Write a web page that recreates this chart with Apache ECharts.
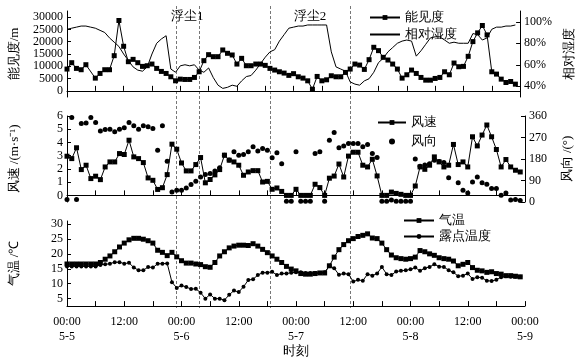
<!DOCTYPE html>
<html>
<head>
<meta charset="utf-8">
<script src="https://cdn.jsdelivr.net/npm/echarts@6/dist/echarts.min.js"></script>
<style>
html, body { margin: 0; padding: 0; background: #fff; }
#main { width: 584px; height: 359px; }
</style>
</head>
<body>
<div id="main"></div>
<script>
// 时间：5-5 00:00 起的小时数
var hours = [];
for (var i = 0; i < 96; i++) hours.push(i);

var visibility = [8870, 11460, 9140, 8600, 10640, null, 5180, 7090, 8600, 8600, 14320, 28640,
    18140, 11870, 12820, 11460, 9960, 10230, 10910, 9140, 7910, 7090, 5730, 4090,
    4770, 4640, 4640, 5460, 7770, 12280, 14730, 13910, 13910, 16640, 15280, 14600,
    10910, 13230, 10230, 10230, 10910, 10910, 10370, 9140, 8460, 7770, 7230, 6300,
    7000, 5730, 5180, 4090, 680, 5870, 4090, 4500, 6140, 5730, 5730, 7500,
    8870, 10910, 10500, 8730, 12690, 17730, 16370, 13640, 12550, 10910, 8870, 5180,
    6550, 8460, 7090, 5460, 4360, 4360, 5050, 5460, 7770, 6550, 11320, 9820,
    9960, 14050, 20050, 23600, 26600, 22780, 7770, 6820, 4770, 3410, 3820, 2730];

var humidity = [93, 94, 95, 96, 96, 95, 94, 92, 90, 85, 81, 77,
    70, 64, 58, 55, 54, 58, 70, 80, 84, 87, 56, 53,
    59, 60, 59, 60, 55, 53, 57, 48, 41, 38, 39, 41,
    40, 45, 49, 50, 55, 61, 67, 72, 74, 82, 88, 94,
    95, 96, 96, 97, 97, 97, 97, 97, 72, 58, 56, 54,
    44, 42, 41, 45, 47, 53, 62, 66, 72, 76, 80, 82,
    83, 82, 68, 73, 79, 85, 86, 86, 83, 80, 81, 80,
    80, 80, 89, 88, 83, 85, 93, 95, 95, 96, 96, 97];

var windSpeed = [2.96, 2.78, 3.6, 1.95, 2.28, 1.27, 1.45, 1.19, 2.15, 2.53, 2.53, 3.16,
    3.09, 4.17, 2.91, 2.78, 2.48, 1.32, 1.14, 0.45, 0.58, 1.57, 3.87, 3.49,
    2.45, 1.85, 1.85, 2.33, 2.86, 0.95, 1.2, 1.55, 1.95, 3.04, 2.66, 2.53,
    2.28, 1.52, 1.77, 1.87, 1.87, 1.01, 1.06, 0.46, 0.56, 0.3, 0, 0,
    0.46, 0, 0, 0, 0.84, 0.59, 0, 1.3, 1.46, 2.37, 1.39, 2.97,
    3.26, 3.26, 2.28, 2.15, 2.73, 1.47, 0, 0, 0.25, 0.15, 0.08, 0,
    0, 0.71, 2.15, 1.97, 2.28, 2.91, 2.53, 2.15, 2.28, 3.85, 2.33, 2.53,
    2.15, 4.43, 3.74, 4.56, 5.32, 4.43, 3.47, 2.15, 2.71, 2.15, 1.9, 1.77];

var windDir = [10, 354, 10, 329, 331, 354, 333, 297, 303, 305, 294, 305,
    311, 333, 319, 305, 319, 315, 308, 217, 319, 171, 42, 49,
    49, 59, 73, 87, 105, 115, 119, 130, 143, 196, 176, 210,
    196, 199, 210, 231, 214, 224, 217, 185, 206, 160, 3, 3,
    210, 3, 3, 3, 203, 210, 3, 259, 291, 227, 234, 245,
    245, 245, 231, 241, 203, 186, 3, 3, 8, 3, 3, 3,
    3, 180, 150, 155, 160, 175, 170, 165, 102, null, 81, 49,
    38, 84, 105, 81, 74, 56, 56, 28, 38, 8, 10, 6];

var airTemp = [16.6, 16.6, 16.6, 16.6, 16.6, 16.6, 16.6, 17.1, 18.2, 19.3, 20.7, 22.3,
    23.6, 24.7, 25.2, 25.2, 24.9, 24.4, 23.6, 21.2, 20.5, 19.4, 20.5, 19.0,
    17.7, 16.9, 16.9, 16.6, 16.4, 15.7, 15.5, 17.1, 19.3, 20.7, 22.0, 22.6,
    22.9, 22.9, 22.8, 23.4, 22.6, 21.5, 20.4, 19.3, 18.2, 17.1, 15.8, 14.9,
    14.3, 13.4, 13.2, 13.2, 13.4, 13.6, 13.6, 16.0, 18.9, 21.4, 23.1, 24.4,
    25.1, 25.8, 26.2, 26.7, 25.3, 25.1, 23.6, 21.4, 19.6, 18.7, 18.4, 18.2,
    18.4, 18.9, 21.1, 20.7, 20.0, 19.5, 18.7, 18.4, 18.2, 17.6, 16.0, 16.5,
    17.1, 15.4, 14.5, 14.3, 13.8, 14.0, 13.4, 13.2, 12.7, 12.7, 12.5, 12.3];

var dewPoint = [15.8, 15.8, 15.8, 15.8, 15.8, 15.8, 15.8, 16.3, 16.5, 16.7, 17.2, 17.2,
    16.7, 17.0, 15.4, 14.5, 14.5, 15.6, 15.4, 16.7, 16.7, 16.8, 10.5, 8.6,
    9.4, 8.9, 8.2, 8.3, 7.0, 5.0, 6.4, 5.0, 5.0, 4.5, 6.3, 7.7,
    7.2, 9.0, 11.2, 11.5, 12.9, 13.7, 13.7, 14.0, 12.9, 13.4, 13.4, 13.7,
    13.8, 13.8, 13.6, 13.6, 13.6, 13.6, 13.8, 16.0, 15.2, 13.0, 13.4, 13.2,
    10.7, 11.3, 11.0, 13.2, 12.7, 13.4, 15.6, 13.2, 12.9, 14.1, 14.3, 14.5,
    14.8, 15.4, 14.3, 15.2, 15.6, 16.5, 15.7, 15.6, 14.5, 13.8, 12.5, 12.7,
    13.4, 11.6, 12.2, 12.0, 11.0, 10.9, 11.3, 12.2, 12.5, 12.3, 12.3, 12.3];

// 浮尘时段分界（小时）
var dustLines = [23, 28, 43, 60];
var dustLabels = [{ name: '浮尘1', at: 25.5 }, { name: '浮尘2', at: 51.5 }];

var visTicks = [0, 5000, 10000, 15000, 20000, 25000, 30000];
var rhTicks = [40, 60, 80, 100];
var speedTicks = [0, 1, 2, 3, 4, 5, 6];
var dirTicks = [0, 90, 180, 270, 360];
var tempTicks = [5, 10, 15, 20, 25, 30];

function pairs(arr) {
    return hours.map(function (h, i) { return [h, arr[i]]; });
}

var font = 'Liberation Serif';
var black = '#000';

function xAxis(idx, showLabel) {
    return {
        gridIndex: idx,
        type: 'value',
        min: 0,
        max: 96,
        interval: 6,
        axisLine: { lineStyle: { color: black, width: 1 } },
        axisTick: { inside: true, length: 5, lineStyle: { color: black } },
        splitLine: { show: false },
        axisLabel: {
            show: showLabel,
            color: black,
            fontFamily: font,
            fontSize: 12,
            lineHeight: 15,
            margin: 8,
            formatter: function (v) {
                if (v % 24 === 0) return '00:00\n5-' + (5 + v / 24);
                if (v % 24 === 12) return '12:00';
                return '';
            }
        }
    };
}

function yAxis(idx, pos, min, max, ticks, name, suffix) {
    return {
        gridIndex: idx,
        type: 'value',
        position: pos,
        min: min,
        max: max,
        name: name,
        nameLocation: 'middle',
        nameRotate: 90,
        nameGap: pos === 'left' ? 46 : 36,
        nameTextStyle: { color: black, fontFamily: font, fontSize: 13 },
        axisLine: { show: true, lineStyle: { color: black, width: 1 } },
        axisTick: { show: true, inside: true, length: 4, customValues: ticks, lineStyle: { color: black } },
        axisLabel: {
            customValues: ticks,
            color: black,
            fontFamily: font,
            fontSize: 12,
            margin: 4,
            formatter: function (v) { return String(v) + (suffix || ''); }
        },
        splitLine: { show: false }
    };
}

var lineBase = {
    type: 'line',
    lineStyle: { color: black, width: 1 },
    itemStyle: { color: black, opacity: 1 },
    symbolSize: 5,
    connectNulls: true,
    animation: false
};

var chart = echarts.init(document.getElementById('main'));

var legendText = { color: black, fontFamily: font, fontSize: 13 };

var option = {
    backgroundColor: '#fff',
    animation: false,
    grid: [
        { left: 63, right: 59, top: 11, height: 86 },
        { left: 63, right: 59, top: 116, height: 86 },
        { left: 63, right: 59, top: 221, height: 87 }
    ],
    legend: [
        {
            data: ['能见度', { name: '相对湿度', itemStyle: { opacity: 0 } }],
            orient: 'vertical', left: 364, top: 6,
            itemWidth: 30, itemHeight: 6, itemGap: 4,
            textStyle: legendText
        },
        {
            data: ['风速', '风向'], orient: 'vertical', left: 372, top: 111,
            itemWidth: 28, itemHeight: 6, itemGap: 6,
            textStyle: legendText
        },
        {
            data: ['气温', '露点温度'], orient: 'vertical', left: 398, top: 209,
            itemWidth: 30, itemHeight: 6, itemGap: 3,
            textStyle: legendText
        }
    ],
    xAxis: [xAxis(0, false), xAxis(1, false), xAxis(2, true)],
    yAxis: [
        yAxis(0, 'left', -2500, 32500, visTicks, '能见度/m'),
        yAxis(0, 'right', 30, 110, rhTicks, '相对湿度', '%'),
        yAxis(1, 'left', -0.5, 6, speedTicks, '风速 /(m·s⁻¹)'),
        yAxis(1, 'right', 0, 360, dirTicks, '风向 /(°)'),
        yAxis(2, 'left', 2.5, 31, tempTicks, '气温 /℃')
    ],
    series: [
        Object.assign({}, lineBase, { name: '能见度', xAxisIndex: 0, yAxisIndex: 0, symbol: 'rect', data: pairs(visibility) }),
        Object.assign({}, lineBase, { name: '相对湿度', xAxisIndex: 0, yAxisIndex: 1, symbol: 'none', showSymbol: false, data: pairs(humidity) }),
        Object.assign({}, lineBase, { name: '风速', xAxisIndex: 1, yAxisIndex: 2, symbol: 'rect', data: pairs(windSpeed) }),
        {
            name: '风向', type: 'scatter', xAxisIndex: 1, yAxisIndex: 3,
            symbol: 'circle', symbolSize: 5, itemStyle: { color: black, opacity: 1 },
            data: pairs(windDir)
        },
        Object.assign({}, lineBase, { name: '气温', xAxisIndex: 2, yAxisIndex: 4, symbol: 'rect', data: pairs(airTemp) }),
        Object.assign({}, lineBase, { name: '露点温度', xAxisIndex: 2, yAxisIndex: 4, symbol: 'circle', symbolSize: 4, data: pairs(dewPoint) })
    ]
};
option.xAxis[2].name = '时刻';
option.xAxis[2].nameLocation = 'middle';
option.xAxis[2].nameGap = 34;
option.xAxis[2].nameTextStyle = { color: black, fontFamily: font, fontSize: 13 };

chart.setOption(option);

// 虚线和浮尘标注，用坐标轴换算位置
var graphics = [];
dustLines.forEach(function (h) {
    var x = Math.round(chart.convertToPixel({ xAxisIndex: 0 }, h)) + 0.5;
    graphics.push({
        type: 'line',
        shape: { x1: x, y1: 6, x2: x, y2: 308 },
        style: { stroke: '#777', lineWidth: 1, lineDash: [3, 2] },
        silent: true
    });
});
dustLabels.forEach(function (d) {
    graphics.push({
        type: 'text',
        x: chart.convertToPixel({ xAxisIndex: 0 }, d.at),
        y: 17,
        style: { text: d.name, fill: black, font: '13px ' + font, textAlign: 'center', textVerticalAlign: 'middle' },
        silent: true
    });
});
chart.setOption({ graphic: graphics });
</script>
</body>
</html>
